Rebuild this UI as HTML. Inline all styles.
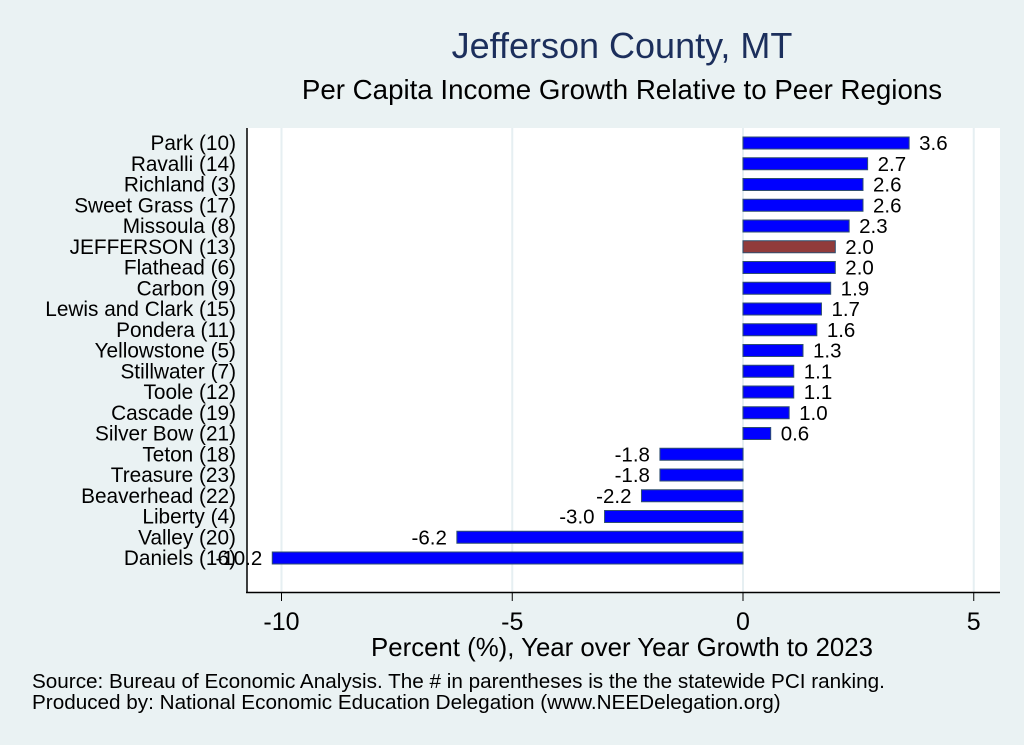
<!DOCTYPE html>
<html><head><meta charset="utf-8"><style>
body{margin:0;background:#eaf2f3;}
svg{display:block;font-family:"Liberation Sans",sans-serif;}
</style></head><body>
<svg id="chart" width="1024" height="745" viewBox="0 0 1024 745">
<rect width="1024" height="745" fill="#eaf2f3"/>
<text x="622" y="58" text-anchor="middle" font-size="36" fill="#1c2f5c">Jefferson County, MT</text>
<text x="622" y="99" text-anchor="middle" font-size="27.7" fill="#000">Per Capita Income Growth Relative to Peer Regions</text>
<rect x="247" y="128" width="753" height="464" fill="#fff"/>
<g id="grid"></g><g id="bars"></g><g id="labels"></g>
<line x1="247" y1="128" x2="247" y2="593" stroke="#000" stroke-width="1.5"/>
<line x1="246" y1="592.5" x2="1000" y2="592.5" stroke="#000" stroke-width="1.5"/>
<g id="xticks"></g>
<text x="622" y="656" text-anchor="middle" font-size="25.8">Percent (%), Year over Year Growth to 2023</text>
<text x="32" y="688" font-size="20.7">Source: Bureau of Economic Analysis. The # in parentheses is the the statewide PCI ranking.</text>
<text x="32" y="709" font-size="20.7">Produced by: National Economic Education Delegation (www.NEEDelegation.org)</text>
</svg>
<script>
const categories=["Park (10)","Ravalli (14)","Richland  (3)","Sweet Grass (17)","Missoula  (8)","JEFFERSON (13)","Flathead  (6)","Carbon  (9)","Lewis and Clark (15)","Pondera (11)","Yellowstone  (5)","Stillwater  (7)","Toole (12)","Cascade (19)","Silver Bow (21)","Teton (18)","Treasure (23)","Beaverhead (22)","Liberty  (4)","Valley (20)","Daniels (16)"];
const values=[3.6,2.7,2.6,2.6,2.3,2.0,2.0,1.9,1.7,1.6,1.3,1.1,1.1,1.0,0.6,-1.8,-1.8,-2.2,-3.0,-6.2,-10.2];
const xTicks=[-10,-5,0,5];
const highlight="JEFFERSON (13)";
const NS="http://www.w3.org/2000/svg";
const x=v=>743+v*46.15;
const y=i=>143+i*20.75;
function mk(tag,attrs,parent,text){const e=document.createElementNS(NS,tag);for(const k in attrs)e.setAttribute(k,attrs[k]);if(text!==undefined)e.textContent=text;document.getElementById(parent).appendChild(e);return e;}
xTicks.forEach(t=>{
 const g=mk('line',{x1:x(t),x2:x(t),y1:128,y2:592,stroke:'#e6eff2','stroke-width':2},'grid');
 
 
 const tk=mk('line',{x1:x(t),x2:x(t),y1:592,y2:601,stroke:'#000','stroke-width':1},'xticks');
 
 
 const tl=mk('text',{x:x(t),y:630,'text-anchor':'middle','font-size':25},'xticks',String(t));
 
 
});
categories.forEach((c,i)=>{
 const v=values[i];
 const x0=Math.min(x(0),x(v)),w=Math.abs(x(v)-x(0));
 const b=mk('rect',{x:x0,y:y(i)-6,width:w,height:12,fill:c===highlight?'#913b3b':'#0000ff',stroke:'#2f4f6f','stroke-width':1},'bars');
 
 
 const l=mk('text',{x:236,y:y(i)+7,'text-anchor':'end','font-size':20.8},'labels',c);
 
 
 const vl=mk('text',{x:v>=0?x(v)+10:x(v)-10,y:y(i)+7,'text-anchor':v>=0?'start':'end','font-size':20.5},'labels',v.toFixed(1));
 
 
});
</script>
</body></html>
